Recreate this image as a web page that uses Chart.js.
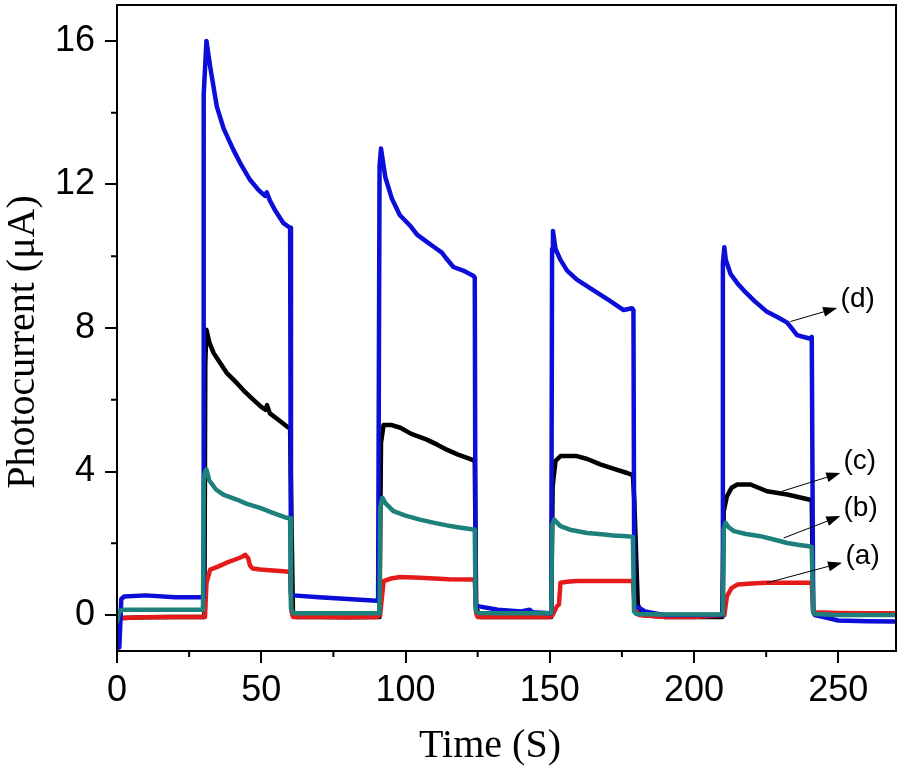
<!DOCTYPE html>
<html>
<head>
<meta charset="UTF-8">
<title>Photocurrent</title>
<style>
  body { margin: 0; background: #fff; }
  canvas { display: block; }
</style>
<script src="https://cdn.jsdelivr.net/npm/chart.js"></script>
</head>
<body>
<canvas id="chart" width="902" height="768"></canvas>
<script>
// time (s) and photocurrent (uA), one pair of arrays per curve
const timeA = [0, 2, 10, 20, 30.5, 31, 32.3, 35, 38, 41, 43.2, 44.5, 45.5, 46.1, 47, 49.6, 53, 57.7, 60, 60.5, 61, 70, 80, 90, 91.2, 92.4, 95, 98.2, 105, 115, 123, 124, 124.5, 125, 135, 150, 151, 152.5, 153.2, 153.7, 156, 159.4, 168, 176.8, 178.8, 179.5, 180, 181, 190, 200, 210.5, 211.4, 213, 215, 220, 225, 232, 239.2, 240.8, 241.3, 242, 250, 260, 270];
const currentA = [-0.1, -0.08, -0.06, -0.05, -0.05, 0.9, 1.27, 1.35, 1.46, 1.55, 1.62, 1.68, 1.58, 1.38, 1.3, 1.27, 1.25, 1.22, 1.2, 0.1, -0.05, -0.05, -0.06, -0.05, 0.0, 0.95, 1.02, 1.06, 1.04, 1.0, 0.99, 0.98, 0.05, -0.05, -0.05, -0.05, 0.0, 0.25, 0.3, 0.9, 0.93, 0.95, 0.95, 0.95, 0.95, 0.2, 0.1, 0.0, -0.05, -0.05, 0.0, 0.53, 0.75, 0.85, 0.88, 0.9, 0.9, 0.9, 0.9, 0.1, 0.08, 0.06, 0.05, 0.05];

const timeB = [0, 0.8, 2, 10, 20, 29.8, 30.1, 30.5, 31, 32, 34.3, 37, 41.5, 45, 49.6, 54, 58.8, 60, 60.3, 61, 70, 80, 90, 91, 91.2, 92, 93, 95.8, 100, 105, 110, 114.3, 118, 123, 124, 124.3, 125, 135, 150, 150.5, 150.8, 151.5, 153.7, 157, 162.9, 168, 172, 176.8, 178.8, 179.2, 180, 190, 200, 210, 210.3, 210.9, 212, 213.8, 218, 223, 228, 232.3, 236, 239.8, 240.8, 241.3, 242, 250, 270];
const currentB = [-0.2, 0.1, 0.15, 0.15, 0.15, 0.15, 3.8, 4.0, 4.06, 3.75, 3.5, 3.35, 3.22, 3.1, 2.99, 2.85, 2.71, 2.7, 0.2, 0.05, 0.05, 0.05, 0.05, 0.05, 3.0, 3.27, 3.12, 2.9, 2.77, 2.66, 2.57, 2.5, 2.45, 2.39, 2.38, 0.15, 0.06, 0.05, 0.05, 0.05, 2.5, 2.66, 2.48, 2.38, 2.29, 2.25, 2.22, 2.2, 2.18, 0.1, 0.03, 0.02, 0.02, 0.02, 2.4, 2.57, 2.45, 2.34, 2.26, 2.2, 2.1, 2.01, 1.96, 1.92, 1.9, 0.1, 0.03, 0.0, 0.0];

const timeC = [0, 2, 10, 20, 30.3, 30.6, 31, 32, 33.5, 35.7, 38, 41.5, 44, 47.3, 50, 51.5, 52, 53, 55, 58.8, 60, 60.5, 61, 62, 70, 80, 90, 91, 91.5, 92.4, 95, 98.2, 102, 107.4, 111, 114.3, 118, 123, 124, 124.5, 126, 135, 150, 150.5, 151, 152, 153.7, 159.4, 163, 167.5, 172, 176.8, 178.8, 179.3, 180, 180.5, 182, 190, 200, 209.8, 210.3, 211.4, 213, 215, 219.6, 225.3, 232.3, 239.8, 240.8, 241.3, 242, 250, 270];
const currentC = [-0.1, -0.08, -0.06, -0.05, -0.05, 7.0, 7.95, 7.6, 7.3, 7.03, 6.75, 6.47, 6.25, 6.0, 5.8, 5.72, 5.85, 5.62, 5.5, 5.26, 5.2, 2.5, 0.0, -0.05, -0.05, -0.06, -0.05, -0.05, 4.8, 5.3, 5.3, 5.22, 5.05, 4.89, 4.75, 4.61, 4.48, 4.33, 4.3, 0.2, -0.05, -0.05, -0.05, -0.05, 3.6, 4.3, 4.43, 4.43, 4.35, 4.2, 4.08, 3.96, 3.9, 3.2, 1.5, 0.3, 0.0, -0.05, -0.05, -0.05, 2.9, 3.31, 3.55, 3.64, 3.64, 3.45, 3.36, 3.22, 3.2, 0.1, 0.0, 0.02, 0.02];

const timeD = [0, 0.8, 1.5, 2.5, 10, 20, 29.9, 30.05, 31, 32.3, 34.6, 37, 40.3, 43, 46.1, 49, 51.3, 51.9, 53, 55, 57.7, 59.5, 60, 60.3, 61, 70, 80, 90, 90.5, 91, 91.5, 93, 95.3, 98, 101.6, 104, 107.4, 110, 112.6, 114, 116.6, 120, 123.6, 124, 124.3, 125, 132, 140, 143, 144, 150, 150.5, 150.8, 151.1, 152, 153.7, 156, 159.4, 165.2, 171, 175.6, 178.5, 179, 179.3, 180, 183, 190, 200, 209.8, 210, 210.5, 211, 212.7, 215, 217.2, 221, 225.3, 229, 232.3, 235.7, 238, 240.4, 240.8, 241.3, 242, 250, 260, 270];
const currentD = [-0.9, -0.9, 0.45, 0.52, 0.55, 0.5, 0.5, 14.5, 16.0, 15.28, 14.17, 13.55, 12.97, 12.55, 12.13, 11.85, 11.68, 11.78, 11.55, 11.25, 10.92, 10.82, 10.79, 0.6, 0.55, 0.5, 0.45, 0.4, 0.4, 12.5, 13.0, 12.2, 11.6, 11.15, 10.85, 10.6, 10.4, 10.25, 10.1, 9.95, 9.7, 9.6, 9.45, 9.4, 0.3, 0.25, 0.15, 0.1, 0.15, 0.08, 0.05, 0.05, 10.2, 10.7, 10.2, 9.9, 9.6, 9.35, 9.05, 8.75, 8.5, 8.55, 8.5, 0.3, 0.25, 0.1, 0.0, 0.0, 0.0, 9.8, 10.25, 9.9, 9.5, 9.25, 9.05, 8.75, 8.45, 8.3, 8.15, 7.8, 7.75, 7.7, 7.75, 0.1, 0.0, -0.15, -0.17, -0.18];

const xTicks = [0, 50, 100, 150, 200, 250];
const xMinor = [25, 75, 125, 175, 225];
const yTicks = [0, 4, 8, 12, 16];
const yMinor = [2, 6, 10, 14];

// curve labels with arrows, in data units
const labelText = ['(a)', '(b)', '(c)', '(d)'];
const labelX = [252.5, 251.8, 251.8, 250.8];
const labelY = [1.64, 2.99, 4.29, 8.79];
const arrowFromX = [225.3, 231.1, 230.5, 233.4];
const arrowFromY = [0.9, 2.15, 3.45, 8.18];
const arrowToX = [251.3, 250.7, 250.7, 249.6];
const arrowToY = [1.46, 2.76, 3.96, 8.56];

function pts(t, v) { return t.map((x, i) => ({ x: x, y: v[i] })); }

const decorations = {
  id: 'decorations',
  afterDraw(chart) {
    const ctx = chart.ctx, a = chart.chartArea, x = chart.scales.x, y = chart.scales.y;
    ctx.save();
    ctx.strokeStyle = '#000';
    ctx.lineWidth = 2;
    ctx.strokeRect(a.left, a.top, a.width, a.height);
    ctx.beginPath();
    xMinor.forEach(v => {
      const p = x.getPixelForValue(v);
      ctx.moveTo(p, a.bottom); ctx.lineTo(p, a.bottom + 6);
    });
    yMinor.forEach(v => {
      const p = y.getPixelForValue(v);
      ctx.moveTo(a.left, p); ctx.lineTo(a.left - 6, p);
    });
    ctx.stroke();

    // axis titles
    ctx.fillStyle = '#000';
    ctx.font = '40px "Liberation Serif"';
    ctx.textAlign = 'center';
    ctx.textBaseline = 'alphabetic';
    ctx.fillText('Time (S)', 490, 757);
    ctx.save();
    ctx.translate(34, 342);
    ctx.rotate(-Math.PI / 2);
    ctx.fillText('Photocurrent (\u03bcA)', 0, 0);
    ctx.restore();

    // arrows and curve labels
    ctx.lineWidth = 1;
    ctx.font = '28px "Liberation Sans"';
    ctx.textAlign = 'left';
    ctx.textBaseline = 'middle';
    labelText.forEach((txt, i) => {
      const x0 = x.getPixelForValue(arrowFromX[i]), y0 = y.getPixelForValue(arrowFromY[i]);
      const x1 = x.getPixelForValue(arrowToX[i]), y1 = y.getPixelForValue(arrowToY[i]);
      const ang = Math.atan2(y1 - y0, x1 - x0);
      ctx.beginPath();
      ctx.moveTo(x0, y0);
      ctx.lineTo(x1 - 10 * Math.cos(ang), y1 - 10 * Math.sin(ang));
      ctx.stroke();
      ctx.beginPath();
      ctx.moveTo(x1, y1);
      ctx.lineTo(x1 - 14 * Math.cos(ang) + 5 * Math.sin(ang), y1 - 14 * Math.sin(ang) - 5 * Math.cos(ang));
      ctx.lineTo(x1 - 14 * Math.cos(ang) - 5 * Math.sin(ang), y1 - 14 * Math.sin(ang) + 5 * Math.cos(ang));
      ctx.closePath();
      ctx.fill();
      ctx.fillText(txt, x.getPixelForValue(labelX[i]), y.getPixelForValue(labelY[i]));
    });
    ctx.restore();
  }
};

const tickFont = { family: '"Liberation Sans"', size: 36 };

new Chart(document.getElementById('chart'), {
  type: 'line',
  data: {
    datasets: [
      { label: '(b)', data: pts(timeB, currentB), borderColor: '#1d807b', order: 0 },
      { label: '(d)', data: pts(timeD, currentD), borderColor: '#0d0dd9', order: 1 },
      { label: '(a)', data: pts(timeA, currentA), borderColor: '#e51a1a', order: 2 },
      { label: '(c)', data: pts(timeC, currentC), borderColor: '#000000', order: 3 }
    ]
  },
  options: {
    responsive: false,
    animation: false,
    layout: { padding: { top: 5, right: 6, left: 0, bottom: 0 } },
    elements: {
      point: { radius: 0 },
      line: { borderWidth: 4.5, tension: 0, borderJoinStyle: 'round', borderCapStyle: 'round' }
    },
    plugins: { legend: { display: false }, tooltip: { enabled: false } },
    scales: {
      x: {
        type: 'linear', min: 0, max: 270,
        afterBuildTicks: s => { s.ticks = xTicks.map(v => ({ value: v })); },
        afterFit: s => { s.height = 117; s.paddingLeft = 0; s.paddingRight = 0; },
        ticks: { font: tickFont, color: '#000', padding: 6, maxRotation: 0 },
        grid: { drawOnChartArea: false, color: '#000', lineWidth: 2, tickLength: 12 },
        border: { color: '#000', width: 2 }
      },
      y: {
        type: 'linear', min: -1, max: 17,
        afterBuildTicks: s => { s.ticks = yTicks.map(v => ({ value: v })); },
        afterFit: s => { s.width = 117; s.paddingTop = 0; s.paddingBottom = 0; },
        ticks: { font: tickFont, color: '#000', padding: 10 },
        grid: { drawOnChartArea: false, color: '#000', lineWidth: 2, tickLength: 12 },
        border: { color: '#000', width: 2 }
      }
    }
  },
  plugins: [decorations]
});
</script>
</body>
</html>
